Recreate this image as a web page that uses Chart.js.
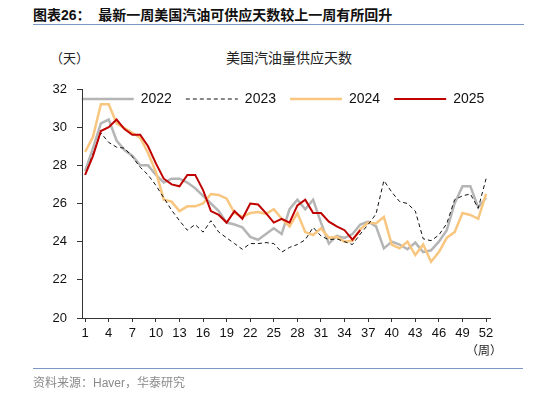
<!DOCTYPE html>
<html>
<head>
<meta charset="utf-8">
<script src="https://cdn.jsdelivr.net/npm/chart.js@4.4.1/dist/chart.umd.min.js"></script>
<style>
  body { margin: 0; width: 534px; height: 393px; background: #fff; position: relative; overflow: hidden;
         font-family: "Liberation Sans", "Noto Sans CJK SC", sans-serif; }
  canvas { position: absolute; left: 0; top: 0; }
  .txt { position: absolute; white-space: nowrap; }
  #title { left: 33px; top: 5px; font-size: 14px; font-weight: bold; line-height: 18px; color: #111;
           font-family: "Liberation Sans", "Noto Sans CJK SC", sans-serif; }
  #title .cn { font-family: "Noto Sans CJK SC", sans-serif; }
  #rule1 { position: absolute; left: 33px; top: 24px; width: 491px; height: 0; border-top: 1px solid #7b98c4; }
  #rule2 { position: absolute; left: 33px; top: 368px; width: 490px; height: 0; border-top: 1px solid #7b98c4; }
  #unit { left: 50px; top: 48px; font-size: 13px; color: #222; font-family: "Noto Sans CJK SC", sans-serif; }
  #ctitle { left: 226px; top: 47px; font-size: 14px; color: #222; font-family: "Noto Sans CJK SC", sans-serif; }
  #week { left: 466px; top: 341px; font-size: 12px; color: #222; font-family: "Noto Sans CJK SC", sans-serif; }
  #source { left: 33px; top: 373px; font-size: 12px; color: #8a8a8a; font-family: "Noto Sans CJK SC", sans-serif; }
  #source .en { font-family: "Liberation Sans", sans-serif; }
</style>
</head>
<body>
<div id="title" class="txt">图表26：&nbsp;&nbsp;<span class="cn">最新一周美国汽油可供应天数较上一周有所回升</span></div>
<div id="rule1"></div>
<div id="unit" class="txt">（天）</div>
<div id="ctitle" class="txt">美国汽油量供应天数</div>
<canvas id="chart" width="534" height="393"></canvas>
<div id="week" class="txt">（周）</div>
<div id="rule2"></div>
<div id="source" class="txt">资料来源：<span class="en">Haver</span>，华泰研究</div>

<script>
const weeks = [1,2,3,4,5,6,7,8,9,10,11,12,13,14,15,16,17,18,19,20,21,22,23,24,25,26,
               27,28,29,30,31,32,33,34,35,36,37,38,39,40,41,42,43,44,45,46,47,48,49,50,51,52];
const xTicks = [1,4,7,10,13,16,19,22,25,28,31,34,37,40,43,46,49,52];
const seriesNames = ['2022', '2023', '2024', '2025'];

const y2022 = [27.7, 28.9, 30.2, 30.4, 29.3, 28.8, 28.5, 28.0, 28.0, 27.5, 27.1, 27.3, 27.3, 27.1, 26.8, 26.4,
               26.0, 25.6, 25.0, 24.9, 24.75, 24.25, 24.1, 24.4, 24.7, 24.4, 25.7, 26.2, 25.7, 26.2, 25.0, 23.9,
               24.3, 24.2, 24.4, 24.9, 25.05, 24.8, 23.65, 24.0, 23.85, 23.6, 23.95, 23.45, 23.55, 24.0, 24.6,
               26.0, 26.9, 26.9, 25.8, 26.3];
const y2023 = [27.5, 28.6, 29.7, 29.2, 28.95, 28.9, 28.45, 27.9, 27.5, 26.95, 26.3, 25.65, 25.1, 24.6, 24.9, 24.5,
               25.1, 24.5, 24.2, 23.9, 23.6, 23.9, 23.9, 23.95, 23.9, 23.45, 23.7, 23.85, 24.1, 24.75, 24.3, 24.1,
               24.15, 24.0, 23.85, 24.4, 24.9, 25.45, 27.2, 26.6, 26.1, 26.0, 25.6, 24.15, 24.05, 24.35, 24.95,
               26.2, 26.4, 26.5, 25.75, 27.3];
const y2024 = [28.7, 29.5, 31.2, 31.2, 30.2, 29.95, 29.7, 29.45, 28.65, 27.65, 26.2, 26.1, 25.6, 25.85, 25.85, 26.0,
               26.5, 26.45, 26.25, 25.5, 25.3, 25.5, 25.55, 25.45, 25.7, 25.2, 24.8, 25.5, 24.5, 24.35, 24.7, 24.2,
               24.25, 24.0, 24.05, 24.65, 25.0, 24.95, 25.3, 23.85, 23.65, 24.0, 23.3, 23.85, 22.95, 23.45, 24.2,
               24.5, 25.5, 25.4, 25.2, 26.5];
const y2025 = [27.5, 28.5, 29.8, 30.0, 30.4, 29.9, 29.6, 29.6, 29.0, 28.1, 27.3, 27.0, 26.9, 27.5, 27.5, 26.7,
               25.6, 25.4, 25.0, 25.6, 25.2, 26.0, 25.95, 25.5, 25.0, 25.2, 25.0, 25.9, 26.2, 25.5, 25.5, 25.05,
               24.8, 24.6, 24.1, 24.6];

function pts(vals) {
  return vals.map((v, i) => ({ x: weeks[i], y: v }));
}

// the legend takes no room in the layout and is drawn inside the plot area
const legendInPlot = {
  id: 'legendInPlot',
  beforeLayout(chart) {
    const lg = chart.legend;
    if (lg && !lg._inPlot) {
      const fit = lg.fit;
      lg.fit = function () {
        fit.call(this);
        this._realHeight = this.height;
        this.height = 0;
      };
      lg._inPlot = true;
    }
  },
  afterLayout(chart) {
    const lg = chart.legend;
    const area = chart.chartArea;
    // centred so the first line starts at the y axis
    lg.left = 36;
    lg.right = 530;
    lg.width = lg.right - lg.left;
    lg.top = area.top - 11;
    lg.height = lg._realHeight;
    lg.bottom = lg.top + lg.height;
  }
};

// fixed axis sizes so the plot area lands where the original is
const fixY = { afterFit(scale) { scale.width = 82; } };
const fixX = { afterFit(scale) { scale.height = 30; } };

new Chart(document.getElementById('chart'), {
  type: 'line',
  data: {
    datasets: [
      { label: seriesNames[0], data: pts(y2022), borderColor: '#b5b5b5', backgroundColor: '#b5b5b5', borderWidth: 2.5, order: 3 },
      { label: seriesNames[1], data: pts(y2023), borderColor: '#111111', backgroundColor: '#111111', borderWidth: 1, borderDash: [4, 3], order: 1 },
      { label: seriesNames[2], data: pts(y2024), borderColor: '#f9c67f', backgroundColor: '#f9c67f', borderWidth: 2.5, order: 2 },
      { label: seriesNames[3], data: pts(y2025), borderColor: '#c00000', backgroundColor: '#c00000', borderWidth: 2, order: 0 }
    ]
  },
  options: {
    responsive: false,
    animation: false,
    devicePixelRatio: 1,
    layout: { padding: { left: 0, right: 44, top: 89, bottom: 45 } },
    elements: { point: { radius: 0 }, line: { tension: 0 } },
    plugins: {
      tooltip: { enabled: false },
      legend: {
        position: 'top',
        align: 'center',
        labels: {
          usePointStyle: true,
          pointStyle: 'line',
          pointStyleWidth: 52,
          padding: 14,
          color: '#111',
          font: { family: 'Liberation Sans', size: 14 },
          sort: (a, b) => a.datasetIndex - b.datasetIndex,
          generateLabels(chart) {
            const items = Chart.defaults.plugins.legend.labels.generateLabels(chart);
            items.forEach(it => {
              const ds = chart.data.datasets[it.datasetIndex];
              it.lineWidth = ds.borderWidth;
              it.lineDash = ds.borderDash || [];
              it.strokeStyle = ds.borderColor;
            });
            return items;
          }
        }
      }
    },
    scales: {
      x: {
        type: 'linear',
        min: 0.6,
        max: 52.5,
        afterBuildTicks(scale) { scale.ticks = xTicks.map(v => ({ value: v })); },
        ...fixX,
        border: { display: true, color: '#333', width: 1 },
        grid: { display: true, drawOnChartArea: false, drawTicks: true, tickLength: 4, color: '#333' },
        ticks: { color: '#111', font: { family: 'Liberation Sans', size: 13 }, padding: 4, maxRotation: 0, autoSkip: false }
      },
      y: {
        min: 20,
        max: 32,
        ...fixY,
        border: { display: true, color: '#333', width: 1 },
        grid: { display: true, drawOnChartArea: false, drawTicks: true, tickLength: 5, color: '#333' },
        ticks: { stepSize: 2, color: '#111', font: { family: 'Liberation Sans', size: 13 }, padding: 10 }
      }
    }
  },
  plugins: [legendInPlot]
});
</script>
</body>
</html>
